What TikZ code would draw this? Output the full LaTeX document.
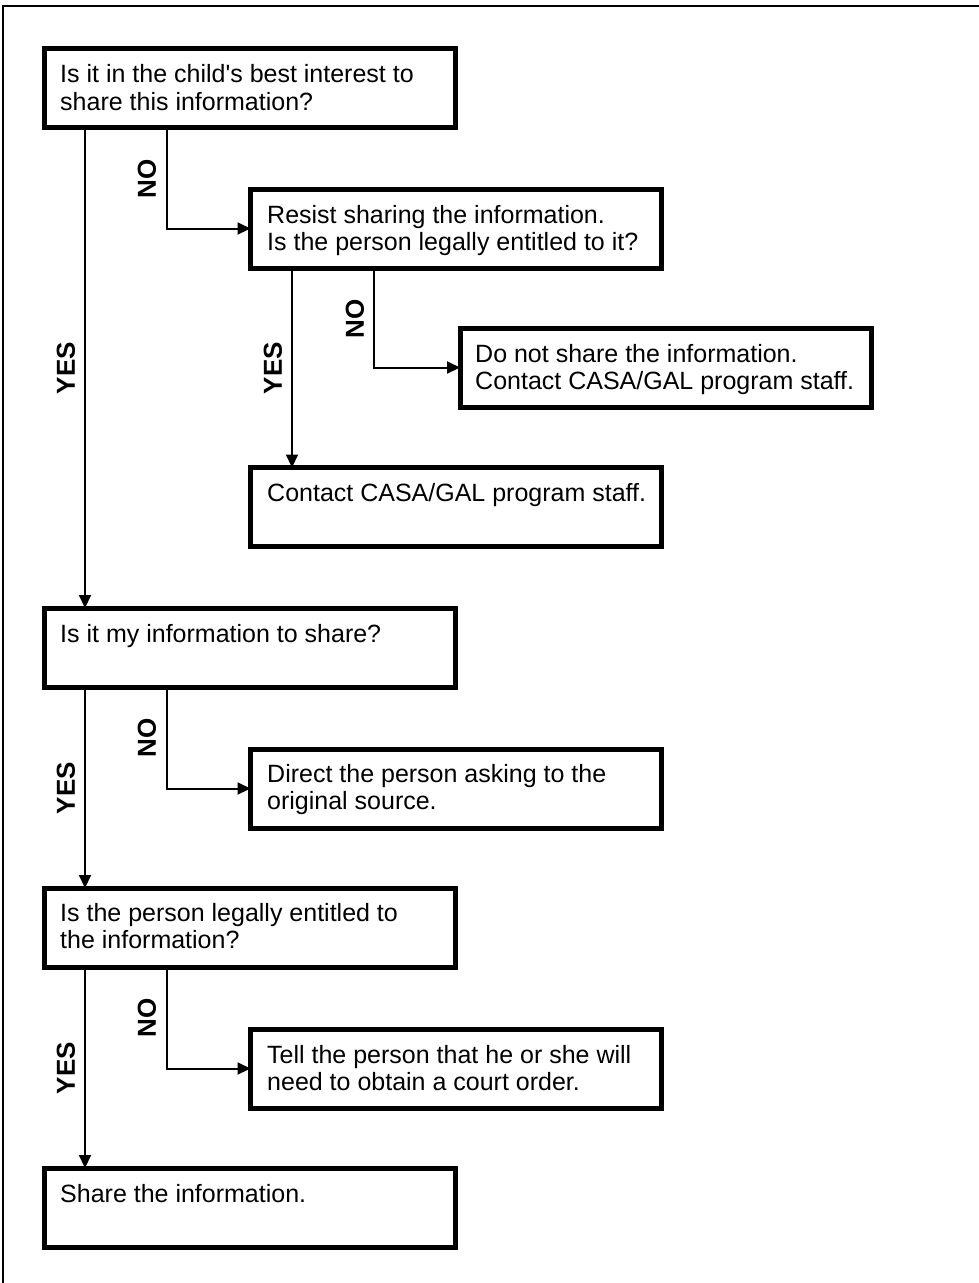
\documentclass[tikz,border=0pt]{standalone}
\usepackage{fontspec}
\setmainfont{Liberation Sans}[Ligatures=TeXOff]
\usetikzlibrary{arrows.meta,calc}
\begin{document}
\begin{tikzpicture}[x=1pt,y=-1pt,
  box/.style={draw=black, line width=5pt, minimum width=411pt, minimum height=79pt, inner sep=0pt, outer sep=0pt, anchor=center},
  txt/.style={anchor=base west, inner sep=0pt, font=\fontsize{25}{28}\selectfont},
  conn/.style={line width=2pt, -{Triangle[length=13pt,width=12pt]}},
  lbl/.style={rotate=90, font=\fontsize{26}{26}\selectfont\bfseries, inner sep=0pt, anchor=center},
  frameline/.style={line width=2pt}]
\useasboundingbox (0,0) rectangle (979,1283);
% outer frame (top and left edges visible)
\coordinate (fbl) at (3,1290);
\coordinate (ftl) at (3,6);
\coordinate (ftr) at (985,6);
\draw[frameline] (fbl) -- (ftl) -- (ftr);
% boxes
\node[box] (b1) at (250,88) {};
\node[box] (b2) at (456,228.5) {};
\node[box] (b3) at (665.5,367.5) {};
\node[box] (b4) at (456,507) {};
\node[box] (b5) at (250,647.5) {};
\node[box] (b6) at (456,788.5) {};
\node[box] (b7) at (250,927.5) {};
\node[box] (b8) at (456,1068.5) {};
\node[box] (b9) at (250,1207.5) {};
% texts
\node[txt] (t1a) at (60,82) {Is it in the child's best interest to};
\node[txt] (t1b) at (60,110) {share this information?};
\node[txt] (t2a) at (267,223) {Resist sharing the information.};
\node[txt] (t2b) at (267,250) {Is the person legally entitled to it?};
\node[txt] (t3a) at (475,362) {Do not share the information.};
\node[txt] (t3b) at (475,389) {Contact CASA/GAL program staff.};
\node[txt] (t4) at (267,501) {Contact CASA/GAL program staff.};
\node[txt] (t5) at (60,642) {Is it my information to share?};
\node[txt] (t6a) at (267,782) {Direct the person asking to the};
\node[txt] (t6b) at (267,809) {original source.};
\node[txt] (t7a) at (60,921) {Is the person legally entitled to};
\node[txt] (t7b) at (60,948) {the information?};
\node[txt] (t8a) at (267,1063) {Tell the person that he or she will};
\node[txt] (t8b) at (267,1090) {need to obtain a court order.};
\node[txt] (t9) at (60,1202) {Share the information.};
% connector columns
\coordinate (xa) at (85,0);
\coordinate (xn) at (167,0);
\coordinate (xy2) at (292,0);
\coordinate (xn2) at (374,0);
\draw[conn] (b1.south -| xa) -- (b5.north -| xa);
\draw[conn] (b1.south -| xn) |- (b2.west);
\draw[conn] (b2.south -| xy2) -- (b4.north -| xy2);
\draw[conn] (b2.south -| xn2) |- (b3.west);
\draw[conn] (b5.south -| xa) -- (b7.north -| xa);
\draw[conn] (b5.south -| xn) |- (b6.west);
\draw[conn] (b7.south -| xa) -- (b9.north -| xa);
\draw[conn] (b7.south -| xn) |- (b8.west);
% labels
\node[lbl] (y1) at (66,368) {YES};
\node[lbl] (n1) at (147,179) {NO};
\node[lbl] (y2) at (273,368) {YES};
\node[lbl] (n2) at (355,319) {NO};
\node[lbl] (y3) at (66,788) {YES};
\node[lbl] (n3) at (147,738) {NO};
\node[lbl] (y4) at (66,1068) {YES};
\node[lbl] (n4) at (147,1018) {NO};
\end{tikzpicture}
\end{document}
